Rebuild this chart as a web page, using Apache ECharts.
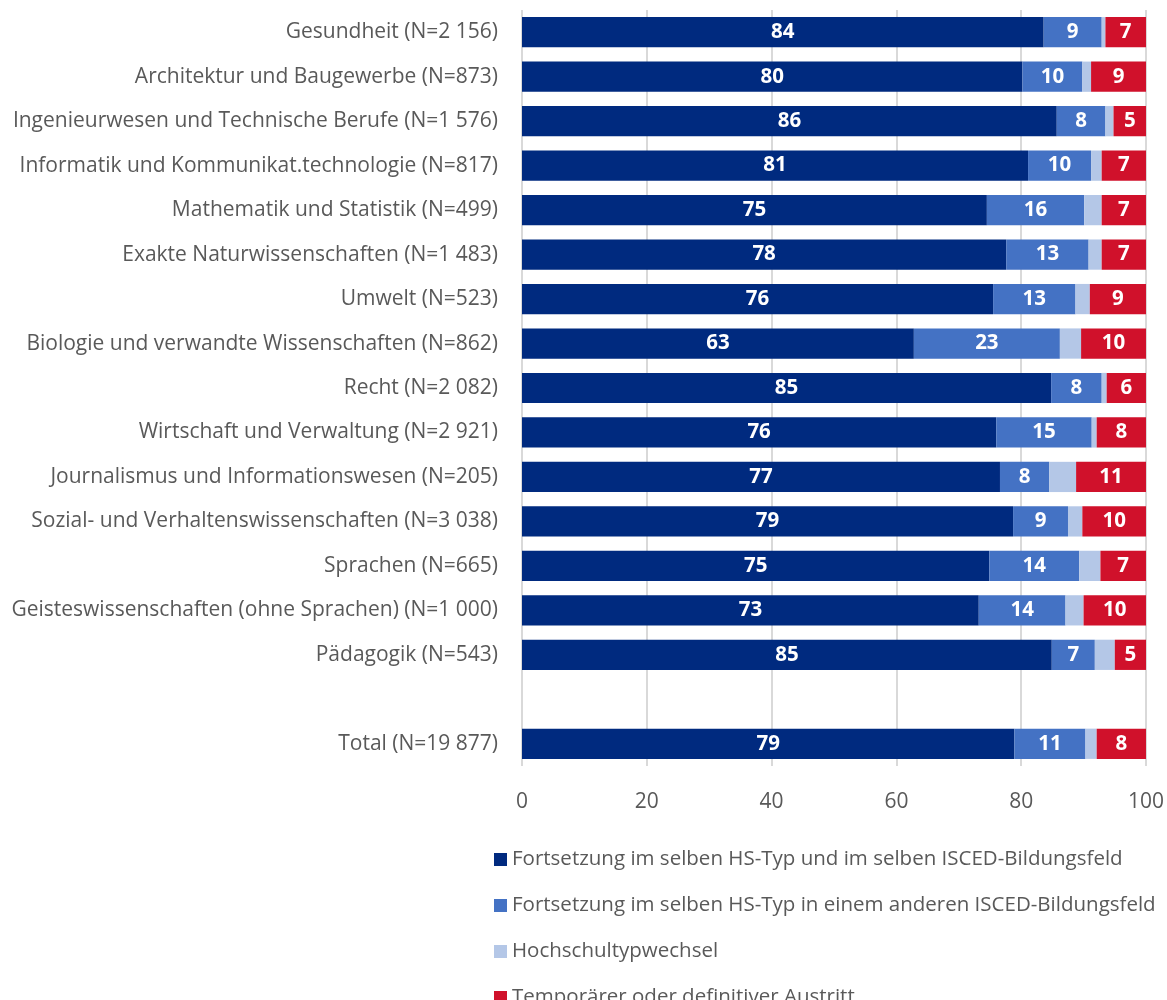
<!DOCTYPE html>
<html><head><meta charset="utf-8">
<script src="https://cdn.jsdelivr.net/npm/echarts@6/dist/echarts.min.js"></script>
<style>html,body{margin:0;padding:0;background:#fff}#c{width:1167px;height:1000px}</style>
</head><body><div id="c"></div>
<script>
const categories = [
  "Gesundheit (N=2 156)",
  "Architektur und Baugewerbe (N=873)",
  "Ingenieurwesen und Technische Berufe (N=1 576)",
  "Informatik und Kommunikat.technologie (N=817)",
  "Mathematik und Statistik (N=499)",
  "Exakte Naturwissenschaften (N=1 483)",
  "Umwelt (N=523)",
  "Biologie und verwandte Wissenschaften (N=862)",
  "Recht (N=2 082)",
  "Wirtschaft und Verwaltung (N=2 921)",
  "Journalismus und Informationswesen (N=205)",
  "Sozial- und Verhaltenswissenschaften (N=3 038)",
  "Sprachen (N=665)",
  "Geisteswissenschaften (ohne Sprachen) (N=1 000)",
  "Pädagogik (N=543)",
  "",
  "Total (N=19 877)"
];
const seriesNames = [
  "Fortsetzung im selben HS-Typ und im selben ISCED-Bildungsfeld",
  "Fortsetzung im selben HS-Typ in einem anderen ISCED-Bildungsfeld",
  "Hochschultypwechsel",
  "Temporärer oder definitiver Austritt"
];
const sameField  = [83.6, 80.2, 85.7, 81.1, 74.5, 77.6, 75.5, 62.8, 84.8, 76.0, 76.6, 78.7, 74.9, 73.2, 84.9, null, 78.9];
const otherField = [9.3, 9.6, 7.8, 10.1, 15.6, 13.2, 13.2, 23.4, 8.1, 15.3, 7.9, 8.8, 14.4, 13.9, 6.9, null, 11.4];
const typeChange = [0.6, 1.4, 1.3, 1.7, 2.8, 2.1, 2.3, 3.4, 0.8, 0.8, 4.3, 2.3, 3.4, 2.9, 3.2, null, 1.8];
const exitRate   = [6.5, 8.8, 5.2, 7.1, 7.1, 7.1, 9.0, 10.4, 6.3, 7.9, 11.2, 10.2, 7.3, 10.0, 5.0, null, 7.9];
const xTicks = [0, 20, 40, 60, 80, 100];

const colors = ["#002A7F", "#4472C4", "#B4C7E7", "#D0112B"];
const font = "'Open Sans', 'Noto Sans', sans-serif";
const lbl = {show: true, position: 'inside', color: '#fff', fontWeight: 'bold', fontSize: 20.5, fontFamily: font,
  formatter: p => p.value == null ? '' : String(Math.round(p.value))};
const dataSets = [sameField, otherField, typeChange, exitRate];
const series = dataSets.map((d, i) => ({
  name: seriesNames[i], type: 'bar', stack: 'all', data: d, barWidth: '68%',
  itemStyle: {color: colors[i]},
  label: i === 2 ? {show: false} : lbl
}));

const chart = echarts.init(document.getElementById('c'), null, {renderer: 'canvas'});
chart.setOption({
  animation: false,
  color: colors,
  grid: {left: 522, right: 21, top: 10, bottom: 234, containLabel: false},
  xAxis: {type: 'value', min: xTicks[0], max: xTicks[xTicks.length - 1], interval: 20,
    axisLine: {show: false}, axisTick: {show: false},
    splitLine: {show: true, lineStyle: {color: '#D9D9D9', width: 2}},
    axisLabel: {color: '#595959', fontSize: 21, fontFamily: font, margin: 26}},
  yAxis: {type: 'category', data: categories, inverse: true,
    axisLine: {show: false}, axisTick: {show: false},
    axisLabel: {color: '#595959', fontSize: 21, fontFamily: font, margin: 24}},
  legend: {orient: 'vertical', left: 489, top: 844, height: 300, itemWidth: 13, itemHeight: 13, itemGap: 25,
    icon: 'rect', textStyle: {color: '#595959', fontSize: 20.5, fontFamily: font, lineHeight: 21}, data: seriesNames},
  series: series
});
</script></body></html>
